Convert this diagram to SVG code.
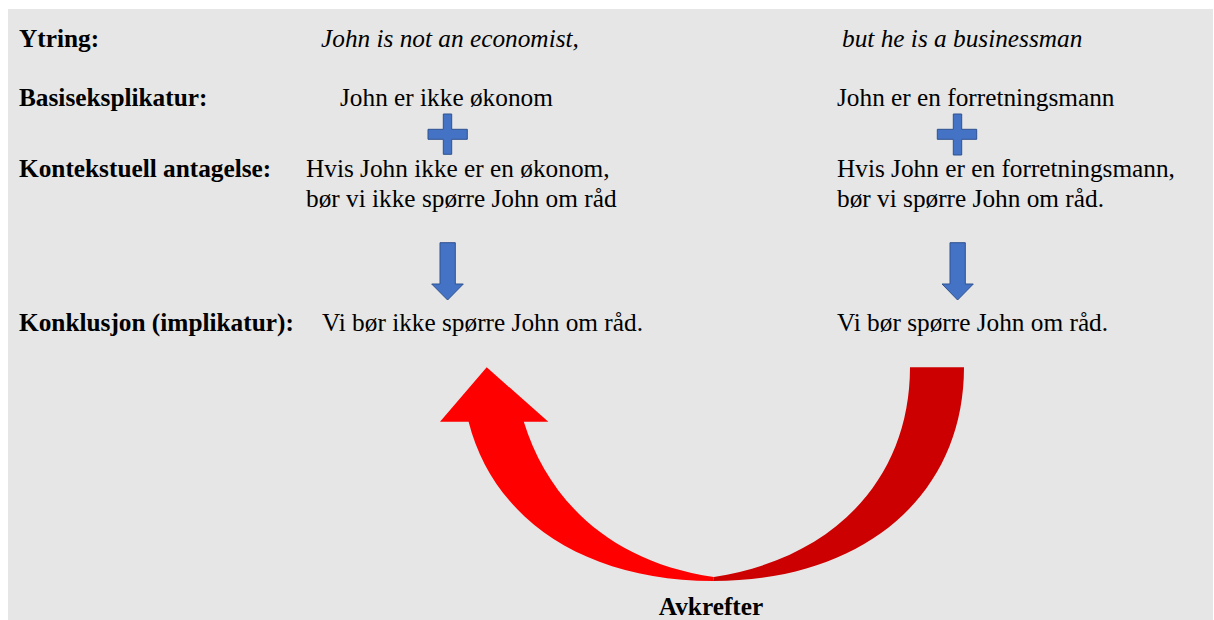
<svg xmlns="http://www.w3.org/2000/svg" width="1214" height="620" viewBox="0 0 1214 620">
<style>
text{font-family:"Liberation Serif","Times New Roman",serif;font-size:25.3px;fill:#000}
.b{font-weight:bold}
.i{font-style:italic}
.blue{fill:#4472c4;stroke:#2f528f;stroke-width:1}
</style>
<rect x="0" y="0" width="1214" height="620" fill="#ffffff"/>
<rect x="8" y="9" width="1205" height="611" fill="#e6e6e6"/>
<g id="labels">
<text class="b" x="19" y="47">Ytring:</text>
<text class="b" x="19" y="106">Basiseksplikatur:</text>
<text class="b" x="19" y="177">Kontekstuell antagelse:</text>
<text class="b" x="19" y="331">Konklusjon (implikatur):</text>
</g>
<g id="left-column">
<text class="i" x="321" y="47">John is not an economist,</text>
<text x="340" y="106">John er ikke økonom</text>
<text x="306" y="177">Hvis John ikke er en økonom,</text>
<text x="306" y="207">bør vi ikke spørre John om råd</text>
<text x="322" y="331">Vi bør ikke spørre John om råd.</text>
</g>
<g id="right-column">
<text class="i" x="842" y="47">but he is a businessman</text>
<text x="837" y="106">John er en forretningsmann</text>
<text x="837" y="177">Hvis John er en forretningsmann,</text>
<text x="837" y="207">bør vi spørre John om råd.</text>
<text x="837" y="331">Vi bør spørre John om råd.</text>
</g>
<g id="connectors">
<path id="plus-left" class="blue" d="M443.3,114 H451.7 V129.3 H467.3 V139.3 H451.7 V154.3 H443.3 V139.3 H428 V129.3 H443.3 Z"/>
<path id="plus-right" class="blue" d="M953.3,114 H961.7 V129.3 H976.7 V139.3 H961.7 V155 H953.3 V139.3 H937.3 V129.3 H953.3 Z"/>
<path id="down-left" class="blue" d="M440,242.7 H455.3 V284 H463.3 L447.6,300 L431.7,284 H440 Z"/>
<path id="down-right" class="blue" d="M950,242.7 H965.3 V284 H973.3 L957.6,300 L942,284 H950 Z"/>
<g id="curved-arrow">
<path fill="#cc0000" d="M964,367.3 C964,495.4 863.6,581 713,581 L713.9,577 C833.5,558.6 910,479.1 910,367.3 Z"/>
<path fill="#ff0000" d="M713,581 C585,581 493.3,519.2 468.6,421.7 L440,421.7 L486.7,367.3 L548.3,421.7 L523.8,421.7 C548,500 610,562 713.9,577 Z"/>
</g>
</g>
<g id="caption">
<text class="b" x="711" y="615" text-anchor="middle">Avkrefter</text>
</g>
</svg>
